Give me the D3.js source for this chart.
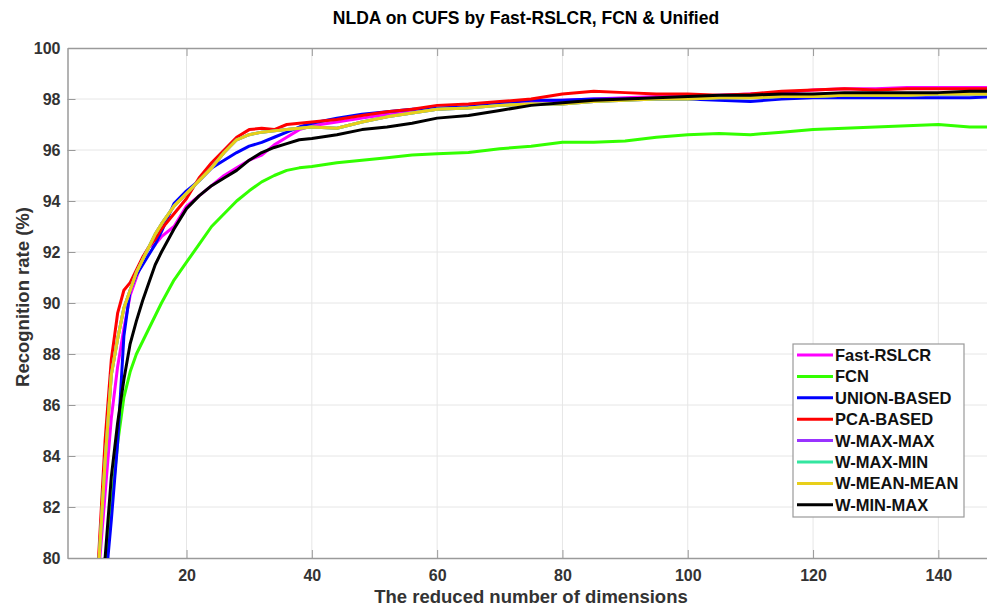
<!DOCTYPE html>
<meta charset="utf-8">
<head>
  <title>NLDA on CUFS</title>
</head>
<style>
body { margin: 0; background: #fff; }
svg { display: block; font-family: "Liberation Sans", Arial, Helvetica, sans-serif; }
.tick text { font-size: 16px; font-weight: bold; fill: #333; }
</style>
<body>
<svg width="987" height="608"></svg>
<script src="https://cdnjs.cloudflare.com/ajax/libs/d3/7.8.5/d3.min.js"></script>
<script>
// reduced number of dimensions
var dims = [5,6,7,8,9,10,11,12,13,14,15,16,18,20,22,24,26,28,30,32,34,36,38,40,44,48,52,56,60,65,70,75,80,85,90,95,100,105,110,115,120,125,130,135,140,145,150];

var fastRslcr = [76,79.5,82.5,85.5,87.5,89,90.3,91,91.7,92.2,92.3,92.6,93,93.8,94.2,94.6,95,95.3,95.6,95.8,96.2,96.5,96.8,96.95,97.1,97.25,97.4,97.5,97.6,97.7,97.8,97.9,97.95,98,98.05,98.1,98.1,98.15,98.2,98.25,98.35,98.4,98.4,98.45,98.45,98.45,98.45];
var fcn = [74,76.5,79,82,84.5,86.3,87.3,88,88.5,89,89.5,90,90.9,91.6,92.3,93,93.5,94,94.4,94.75,95,95.2,95.3,95.35,95.5,95.6,95.7,95.8,95.85,95.9,96.05,96.15,96.3,96.3,96.35,96.5,96.6,96.65,96.6,96.7,96.8,96.85,96.9,96.95,97,96.9,96.9];
var unionBased = [74,77,78.8,81.5,84.5,88.7,90.5,91.1,91.5,91.9,92.3,92.8,93.9,94.4,94.8,95.3,95.6,95.9,96.15,96.3,96.5,96.7,96.9,97.05,97.25,97.4,97.5,97.6,97.65,97.7,97.85,97.95,97.95,98,98,98,98,97.95,97.9,98,98.05,98.05,98.05,98.05,98.05,98.05,98.1];
var pcaBased = [76,80.2,84.6,87.8,89.6,90.5,90.8,91.3,91.8,92.2,92.5,92.9,93.5,94.1,94.9,95.5,96,96.5,96.8,96.85,96.8,97,97.05,97.1,97.2,97.35,97.5,97.6,97.75,97.8,97.9,98,98.2,98.3,98.25,98.2,98.2,98.15,98.2,98.3,98.35,98.4,98.35,98.4,98.4,98.4,98.4];
var wMeanMean = [77,79.8,83.8,87.2,88.6,89.8,90.5,91.2,91.7,92.2,92.7,93.1,93.8,94.3,94.8,95.3,95.9,96.4,96.6,96.7,96.75,96.8,96.85,96.9,96.85,97.1,97.3,97.45,97.6,97.65,97.75,97.8,97.8,97.9,97.95,98,98,98.05,98.05,98.1,98.1,98.15,98.15,98.15,98.2,98.2,98.2];
var wMaxMax = wMeanMean.slice();
var wMaxMin = wMeanMean.slice();
var wMinMax = [76,78.5,80,83.2,85.3,87,88.4,89.3,90.1,90.8,91.5,92,92.9,93.7,94.2,94.6,94.9,95.2,95.6,95.9,96.1,96.25,96.4,96.45,96.6,96.8,96.9,97.05,97.25,97.35,97.55,97.75,97.85,97.95,98,98.05,98.1,98.15,98.15,98.2,98.2,98.25,98.25,98.25,98.25,98.3,98.3];

var names = ["Fast-RSLCR","FCN","UNION-BASED","PCA-BASED","W-MAX-MAX","W-MAX-MIN","W-MEAN-MEAN","W-MIN-MAX"];
var colors = ["#ff00ff","#33ff00","#0000ff","#ff0000","#9933ff","#33e6a0","#e8cf1a","#000000"];
var seriesValues = [fastRslcr, fcn, unionBased, pcaBased, wMaxMax, wMaxMin, wMeanMean, wMinMax];

var xTicks = [20,40,60,80,100,120,140];
var yTicks = [80,82,84,86,88,90,92,94,96,98,100];

var pL = 67.5, pT = 48, pB = 558, pR = 1001;
var svg = d3.select("svg");

var x = d3.scaleLinear().domain([1,150]).range([pL,pR]);
var y = d3.scaleLinear().domain([80,100]).range([pB,pT]);

svg.append("defs").append("clipPath").attr("id","plotclip")
  .append("rect").attr("x",pL).attr("y",pT).attr("width",pR-pL).attr("height",pB-pT);

// grid
svg.append("g").selectAll("line").data(xTicks).enter().append("line")
  .attr("x1",function(d){return x(d);}).attr("x2",function(d){return x(d);})
  .attr("y1",pT).attr("y2",pB)
  .attr("stroke","#e6e6e6").attr("stroke-width",1);
svg.append("g").selectAll("line").data(yTicks.slice(1,-1)).enter().append("line")
  .attr("y1",function(d){return y(d);}).attr("y2",function(d){return y(d);})
  .attr("x1",pL).attr("x2",pR)
  .attr("stroke","#e6e6e6").attr("stroke-width",1);

// axes
svg.append("g").attr("transform","translate(0,"+pB+")")
  .call(d3.axisBottom(x).tickValues(xTicks).tickSizeInner(-8).tickSizeOuter(0).tickPadding(12));
svg.append("g").attr("transform","translate("+pL+",0)")
  .call(d3.axisLeft(y).tickValues(yTicks).tickSizeInner(-8).tickSizeOuter(0).tickPadding(7));
svg.append("g").attr("transform","translate(0,"+pT+")")
  .call(d3.axisTop(x).tickValues(xTicks).tickSizeInner(-8).tickSizeOuter(0).tickFormat(""));
svg.append("g").attr("transform","translate("+pR+",0)")
  .call(d3.axisRight(y).tickValues(yTicks).tickSizeInner(-8).tickSizeOuter(0).tickFormat(""));
svg.selectAll(".domain").attr("stroke","#9a9a9a").attr("stroke-width",1.5);
svg.selectAll(".tick line").attr("stroke","#9a9a9a");

// lines
var line = d3.line()
  .x(function(d,i){return x(dims[i]);})
  .y(function(d){return y(d);});

svg.append("g").attr("clip-path","url(#plotclip)")
  .selectAll("path").data(seriesValues).enter().append("path")
  .attr("fill","none")
  .attr("stroke",function(d,i){return colors[i];})
  .attr("stroke-width",3)
  .attr("stroke-linejoin","round")
  .attr("d",line);

// title and labels
svg.append("text").attr("x",526).attr("y",24).attr("text-anchor","middle")
  .style("font-size","17.5px").style("font-weight","bold").attr("fill","#000")
  .text("NLDA on CUFS by Fast-RSLCR, FCN & Unified");
svg.append("text").attr("x",531).attr("y",603).attr("text-anchor","middle")
  .style("font-size","18.5px").style("font-weight","bold").attr("fill","#333")
  .text("The reduced number of dimensions");
svg.append("text").attr("transform","translate(29,"+297+") rotate(-90)").attr("text-anchor","middle")
  .style("font-size","18.5px").style("font-weight","bold").attr("fill","#333")
  .text("Recognition rate (%)");

// legend
var lg = svg.append("g").attr("transform","translate(793,344)");
lg.append("rect").attr("width",171).attr("height",173)
  .attr("fill","#fff").attr("stroke","#9a9a9a").attr("stroke-width",1.2);
var item = lg.selectAll("g.item").data(names).enter().append("g")
  .attr("class","item")
  .attr("transform",function(d,i){return "translate(0,"+(11+i*21.4)+")";});
item.append("line").attr("x1",4).attr("x2",40).attr("y1",0).attr("y2",0)
  .attr("stroke",function(d,i){return colors[i];}).attr("stroke-width",3);
item.append("text").attr("x",42).attr("y",6)
  .style("font-size","16.5px").style("font-weight","bold").attr("fill","#111")
  .text(function(d){return d;});
</script>
</body>
</html>
